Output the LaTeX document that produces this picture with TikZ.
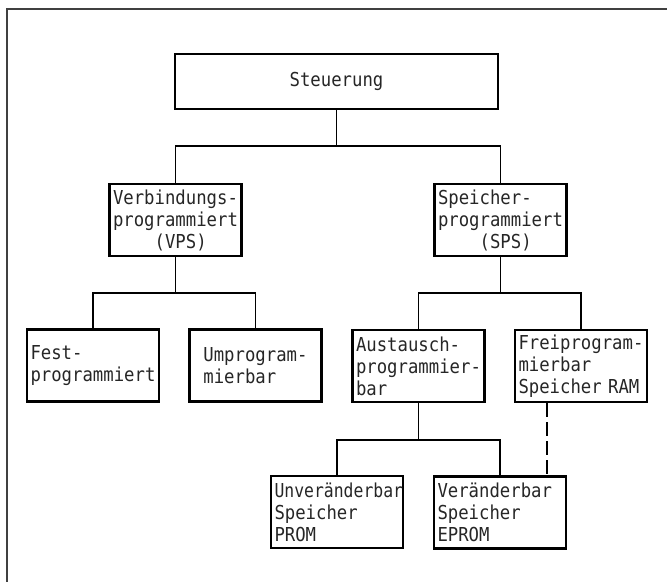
\documentclass[tikz,border=0pt]{standalone}
\usepackage{fontspec}
\usepackage{graphicx}
\newfontfamily\boxfont[FakeStretch=0.9]{DejaVu Sans Mono}
\tikzset{
  box/.style={draw, line width=2.2pt, inner sep=3pt, text=black!85, font=\boxfont\fontsize{16.4}{18.8}\selectfont},
  topbox/.style={box, minimum width=9.69cm, minimum height=1.65cm},
  subbox/.style={box, text width=3.75cm, align=left, minimum width=3.96cm, minimum height=2.16cm},
  link/.style={line width=1.3pt},
  altlink/.style={link, dash pattern=on 0.42cm off 0.15cm},
  frame/.style={line width=1.2pt, black!75}
}
\begin{document}
\begin{tikzpicture}[x=0.3mm, y=-0.3mm]
\useasboundingbox (0,0) rectangle (667,582);
\draw[frame] (667,9) -- (7,9) -- (7,582);

\node[topbox] (steuerung) at (336.5,81.5) {Steuerung};

\node[subbox] (vps) at (175.5,220) {Verbindungs-\\programmiert\\\hphantom{xxxx}(VPS)};
\node[subbox] (sps) at (500.5,220) {Speicher-\\programmiert\\\hphantom{xxxx}(SPS)};

\node[subbox] (fest) at (93,365.5) {Fest-\\programmiert};
\node[subbox] (umprog) at (255.5,365.5) {\hphantom{x}Umprogram-\\\hphantom{x}mierbar};
\node[subbox] (austausch) at (418.5,366) {Austausch-\\programmier-\\bar};
\node[subbox] (freiprog) at (581,366) {Freiprogram-\\mierbar\\Speicher RAM};

\node[subbox] (unver) at (337,512) {\scalebox{0.95}[1]{Unveränderbar}\\Speicher\\PROM};
\node[subbox] (verand) at (500,512.5) {Veränderbar\\Speicher\\EPROM};

\coordinate (j1) at (336.5,146);
\coordinate (j2) at (175.5,293);
\coordinate (j3) at (500.5,293);
\coordinate (j4) at (418.5,440);
\coordinate (ramx) at (547,0);

\draw[link] (steuerung.south) -- (j1);
\draw[link] (vps.north) |- (j1) -| (sps.north);
\draw[link] (vps.south) -- (j2);
\draw[link] (fest.north) |- (j2) -| (umprog.north);
\draw[link] (sps.south) -- (j3);
\draw[link] (austausch.north) |- (j3) -| (freiprog.north);
\draw[link] (austausch.south) -- (j4);
\draw[link] (unver.north) |- (j4) -| (verand.north);
\draw[altlink] (freiprog.south -| ramx) -- (verand.north -| ramx);
\end{tikzpicture}
\end{document}
